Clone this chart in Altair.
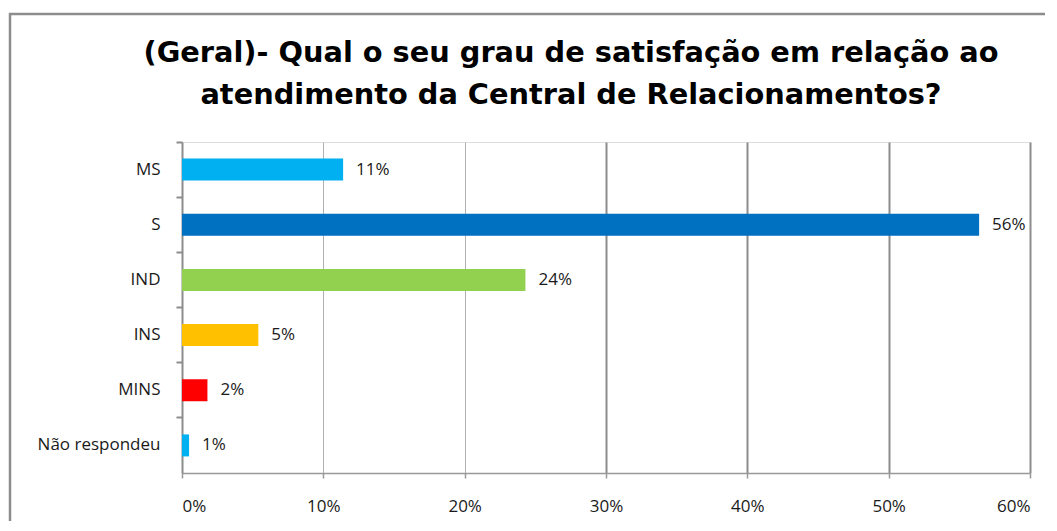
import altair as alt
import pandas as pd

categories = ["MS", "S", "IND", "INS", "MINS", "Não respondeu"]
values = [11.4, 56.4, 24.3, 5.4, 1.8, 0.5]
labels = ["11%", "56%", "24%", "5%", "2%", "1%"]
colors = ["#00B0F0", "#0070C0", "#92D050", "#FFC000", "#FF0000", "#00B0F0"]
x_ticks = [0, 10, 20, 30, 40, 50, 60]
title_lines = ["(Geral)- Qual o seu grau de satisfação em relação ao",
               "atendimento da Central de Relacionamentos?"]

df = pd.DataFrame({
    "cat": categories,
    "val": [v / 100 for v in values],
    "label": labels,
})

FONT = "Open Sans"
TITLE_FONT = "DejaVu Sans"

x_enc = alt.X(
    "val:Q",
    scale=alt.Scale(domain=[0, 0.6], nice=False, zero=True),
    axis=alt.Axis(
        title=None, format=".0%", values=[t / 100 for t in x_ticks],
        labelFont=FONT, labelFontSize=17, labelColor="#1a1a1a", labelPadding=20,
        domainColor="#999999", domainWidth=1.5,
        tickColor="#999999", tickWidth=1.5, tickSize=5,
        grid=True,
        gridColor={"condition": {"test": "datum.value >= 0.25", "value": "#8c8c8c"}, "value": "#b0b0b0"},
        gridWidth={"condition": {"test": "datum.value >= 0.25", "value": 2}, "value": 1},
    ),
)
y_enc = alt.Y(
    "cat:N", sort=categories,
    scale=alt.Scale(paddingInner=0, paddingOuter=0),
    axis=alt.Axis(
        title=None, bandPosition=0,
        labelFont=FONT, labelFontSize=17, labelColor="#1a1a1a", labelPadding=16,
        domainColor="#8c8c8c", domainWidth=2,
        tickColor="#8c8c8c", tickWidth=2, tickSize=6,
        grid=False,
    ),
)

frame = alt.Chart(alt.Data(values=[{"f": 1}])).mark_rect(
    fill="transparent", stroke="#8c8c8c", strokeWidth=2.5
).encode(
    x=alt.value(-172), x2=alt.value(1400), y=alt.value(-128), y2=alt.value(700)
)

bars = alt.Chart(df).mark_bar(size=22).encode(
    x=x_enc, y=y_enc,
    color=alt.Color("cat:N", scale=alt.Scale(domain=categories, range=colors), legend=None),
)

text = alt.Chart(df).mark_text(
    align="left", baseline="middle", dx=13, font=FONT, fontSize=17, color="#1a1a1a"
).encode(x="val:Q", y=alt.Y("cat:N", sort=categories), text="label:N")

chart = alt.layer(frame, bars, text).properties(
    width=848, height=331,
    title=alt.Title(
        text=title_lines, font=TITLE_FONT, fontSize=28.8, fontWeight="bold", color="#000000",
        anchor="middle", frame="group", dx=-35, offset=-97, lineHeight=42,
    ),
    autosize=alt.AutoSizeParams(type="none"),
    padding={"left": 174, "top": 134, "right": 15, "bottom": 48},
).configure_view(stroke=None).configure(background="white")

chart.save("out.html", embed_options={"renderer": "svg", "actions": False})
